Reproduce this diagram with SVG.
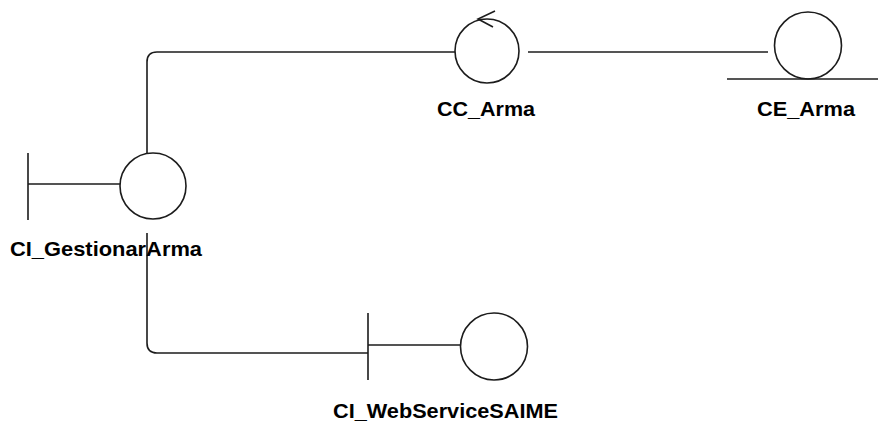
<svg xmlns="http://www.w3.org/2000/svg" width="878" height="424" viewBox="0 0 878 424">
<style>
.s{fill:none;stroke:#1c1c1c;stroke-width:1.6}
.c{fill:#fff;stroke:#1c1c1c;stroke-width:1.6}
.t{font-family:"Liberation Sans",Arial,sans-serif;font-weight:bold;font-size:21px;fill:#000}
</style>
<rect width="878" height="424" fill="#fff"/>
<g id="connectors">
<path class="s" d="M456 52 H157 Q147 52 147 62 V153"/>
<path class="s" d="M147 233 V343 Q147 353 157 353 H368"/>
<path class="s" d="M528 52 H768"/>
</g>
<g id="CC_Arma">
<circle class="c" cx="487" cy="51" r="32"/>
<path class="s" d="M495 11 L478 19 L493 27"/>
<text class="t" x="437" y="116" textLength="98" lengthAdjust="spacingAndGlyphs">CC_Arma</text>
</g>
<g id="CE_Arma">
<circle class="c" cx="808" cy="45.5" r="33.5"/>
<path class="s" d="M727 79 H878"/>
<text class="t" x="757" y="116" textLength="98" lengthAdjust="spacingAndGlyphs">CE_Arma</text>
</g>
<g id="CI_GestionarArma">
<path class="s" d="M28 153 V220 M28 184 H120"/>
<circle class="c" cx="153" cy="186" r="33"/>
<text class="t" x="10" y="256" textLength="192" lengthAdjust="spacingAndGlyphs">CI_GestionarArma</text>
</g>
<g id="CI_WebServiceSAIME">
<path class="s" d="M368 313 V380 M368 345 H460"/>
<circle class="c" cx="494" cy="346.5" r="33.5"/>
<text class="t" x="333" y="418" textLength="225" lengthAdjust="spacingAndGlyphs">CI_WebServiceSAIME</text>
</g>
</svg>
